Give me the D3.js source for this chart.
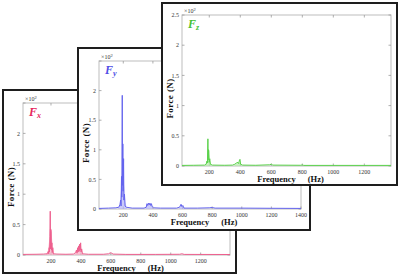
<html>
<script src="https://d3js.org/d3.v7.min.js"></script>
<style>
  body { margin: 0; background: #fff; }
  text { font-family: "Liberation Serif", "Times New Roman", serif; }
</style>
<body>
<div id="chart_area"></div>
<script>

// spectra, force in units of 10^2 N
var fx_main = [[13,0.01],[100,0.012],[150,0.015],[175,0.02],[182,0.06],[185,0.02],[188,0.12],[190,0.05],[193,0.3],[195,0.72],[197,0.1],[199,0.42],[201,0.38],[203,0.08],[206,0.2],[208,0.04],[212,0.12],[215,0.02],[240,0.015],[300,0.012],[350,0.015],[365,0.04],[370,0.08],[374,0.03],[378,0.12],[381,0.05],[385,0.15],[388,0.06],[392,0.18],[395,0.08],[398,0.2],[401,0.05],[405,0.1],[410,0.02],[450,0.012],[550,0.012],[585,0.02],[595,0.035],[605,0.03],[615,0.015],[700,0.01],[900,0.01],[1060,0.012],[1075,0.02],[1090,0.01],[1396,0.008]];
var fx_band = [[165,0],[178,0.05],[186,0.2],[191,0.42],[200,0.45],[206,0.3],[212,0.15],[222,0],[355,0],[368,0.06],[382,0.1],[396,0.12],[408,0.05],[418,0]];

var fy_main = [[36,0.01],[100,0.015],[150,0.02],[170,0.03],[178,0.08],[182,0.15],[185,0.05],[188,0.55],[190,0.2],[193,1.92],[195,0.4],[197,1.1],[199,0.3],[202,0.85],[204,0.15],[208,0.25],[212,0.05],[220,0.03],[260,0.015],[340,0.015],[355,0.03],[360,0.09],[365,0.06],[370,0.1],[375,0.07],[380,0.1],[385,0.06],[390,0.09],[395,0.04],[405,0.02],[450,0.015],[560,0.015],[580,0.03],[590,0.08],[596,0.04],[602,0.06],[610,0.015],[700,0.015],[780,0.02],[800,0.025],[820,0.015],[1000,0.015],[1200,0.012],[1400,0.01]];
var fy_band = [[165,0],[176,0.06],[184,0.3],[190,0.55],[200,0.55],[207,0.35],[214,0.12],[225,0],[350,0],[358,0.07],[375,0.08],[392,0.08],[400,0],[575,0],[588,0.05],[605,0.04],[612,0]];

var fz_main = [[24,0.01],[100,0.012],[170,0.015],[180,0.03],[185,0.08],[188,0.05],[191,0.45],[193,0.1],[195,0.27],[197,0.25],[199,0.06],[203,0.12],[207,0.03],[220,0.015],[300,0.012],[350,0.015],[365,0.03],[375,0.05],[385,0.06],[390,0.04],[395,0.1],[398,0.11],[402,0.03],[415,0.015],[500,0.012],[590,0.02],[600,0.03],[610,0.015],[790,0.012],[800,0.018],[810,0.01],[1372,0.01]];
var fz_band = [[172,0],[182,0.05],[189,0.15],[198,0.2],[205,0.08],[214,0],[360,0],[372,0.04],[390,0.06],[402,0.04],[410,0]];

var yTicks = [0, 0.5, 1, 1.5, 2, 2.5];
var yTickLabels_xy = ["0", "0.5", "1", "1.5", "2", ""];
var yTickLabels_z = ["0", "0.5", "1", "1.5", "2", "2.5"];
var xTicks_short = [200, 400, 600, 800, 1000, 1200];
var xTicks_long = [200, 400, 600, 800, 1000, 1200, 1400];

var panels = [
  {sub:"x", main:fx_main, band:fx_band, color:"#ee5f8e", bandColor:"#f6a9c2", labelColor:"#e6265c",
   xTicks:xTicks_short, yLabels:yTickLabels_xy, xDomain:[13,1396],
   card:{x:3, y:90, w:233, h:183}, m:{l:20, t:13, r:6, b:18}},
  {sub:"y", main:fy_main, band:fy_band, color:"#6464ee", bandColor:"#b4b4f6", labelColor:"#4f4fe6",
   xTicks:xTicks_long, yLabels:yTickLabels_xy, xDomain:[36,1400],
   card:{x:78, y:48, w:232, h:182}, m:{l:21, t:13, r:9, b:21}},
  {sub:"z", main:fz_main, band:fz_band, color:"#5ad24a", bandColor:"#b2eca6", labelColor:"#44c234",
   xTicks:xTicks_short, yLabels:yTickLabels_z, xDomain:[24,1372],
   card:{x:162, y:3, w:235, h:182}, m:{l:20, t:12, r:6, b:19}}
];

var svg = d3.select("#chart_area").append("svg")
    .attr("width", 399).attr("height", 277);

panels.forEach(function(p, i) {
  var c = p.card;
  var left = c.x + p.m.l, top = c.y + p.m.t,
      right = c.x + c.w - p.m.r, bottom = c.y + c.h - p.m.b;

  var x = d3.scaleLinear().domain(p.xDomain).range([left, right]);
  var y = d3.scaleLinear().domain([0, 2.5]).range([bottom, top]);

  var g = svg.append("g");

  // card
  g.append("rect")
    .attr("x", c.x).attr("y", c.y).attr("width", c.w).attr("height", c.h)
    .attr("fill", "#fff").attr("stroke", "#1e1e1e").attr("stroke-width", 2);

  g.append("clipPath").attr("id", "clip" + i)
    .append("rect").attr("x", left).attr("y", top)
    .attr("width", right - left).attr("height", bottom - top);

  // plot box
  g.append("rect")
    .attr("x", left).attr("y", top).attr("width", right - left).attr("height", bottom - top)
    .attr("fill", "none").attr("stroke", "#bdbdbd").attr("stroke-width", 1);

  // inward ticks on all four sides
  p.xTicks.forEach(function(t) {
    g.append("line").attr("x1", x(t)).attr("x2", x(t)).attr("y1", bottom).attr("y2", bottom - 2.5)
      .attr("stroke", "#9a9a9a").attr("stroke-width", 0.8);
    g.append("line").attr("x1", x(t)).attr("x2", x(t)).attr("y1", top).attr("y2", top + 2.5)
      .attr("stroke", "#9a9a9a").attr("stroke-width", 0.8);
    g.append("text").attr("x", x(t)).attr("y", bottom + 7.5)
      .attr("text-anchor", "middle").attr("font-size", 6).attr("fill", "#333")
      .text(t);
  });
  yTicks.forEach(function(t, k) {
    g.append("line").attr("x1", left).attr("x2", left + 2.5).attr("y1", y(t)).attr("y2", y(t))
      .attr("stroke", "#9a9a9a").attr("stroke-width", 0.8);
    g.append("line").attr("x1", right).attr("x2", right - 2.5).attr("y1", y(t)).attr("y2", y(t))
      .attr("stroke", "#9a9a9a").attr("stroke-width", 0.8);
    g.append("text").attr("x", left - 3).attr("y", y(t) + 2.1)
      .attr("text-anchor", "end").attr("font-size", 6).attr("fill", "#333")
      .text(p.yLabels[k]);
  });

  // x10^2 exponent
  var ex = g.append("text").attr("x", left + 2).attr("y", top - 2)
    .attr("font-size", 6).attr("fill", "#333");
  ex.append("tspan").text("\u00d710");
  ex.append("tspan").attr("font-size", 4.5).attr("dy", -2.5).text("2");

  // spectra
  var pg = g.append("g").attr("clip-path", "url(#clip" + i + ")");
  pg.append("path").datum(p.band)
    .attr("d", d3.area().x(d => x(d[0])).y0(y(0)).y1(d => y(d[1])))
    .attr("fill", p.bandColor).attr("opacity", 0.7);
  pg.append("path").datum(p.main)
    .attr("d", d3.line().x(d => x(d[0])).y(d => y(d[1])))
    .attr("fill", "none").attr("stroke", p.color).attr("stroke-width", 1);

  // F label
  var fl = g.append("text").attr("x", left + 6).attr("y", top + 13)
    .attr("fill", p.labelColor).attr("font-style", "italic").attr("font-weight", "bold");
  fl.append("tspan").attr("font-size", 12).text("F");
  fl.append("tspan").attr("font-size", 8).attr("dy", 2).text(p.sub);

  // axis titles
  g.append("text")
    .attr("transform", "translate(" + (c.x + 10.5) + "," + ((top + bottom) / 2 + 8) + ") rotate(-90)")
    .attr("text-anchor", "middle").attr("font-size", 9).attr("font-weight", "bold")
    .attr("letter-spacing", 0.4).attr("fill", "#111")
    .text("Force (N)");

  var xl = g.append("text").attr("x", (left + right) / 2 + 4).attr("y", bottom + 15.5)
    .attr("text-anchor", "middle").attr("font-size", 8.5).attr("font-weight", "bold").attr("fill", "#111");
  xl.append("tspan").text("Frequency");
  xl.append("tspan").attr("dx", 12).text("(Hz)");
});

</script>
</body>
</html>
